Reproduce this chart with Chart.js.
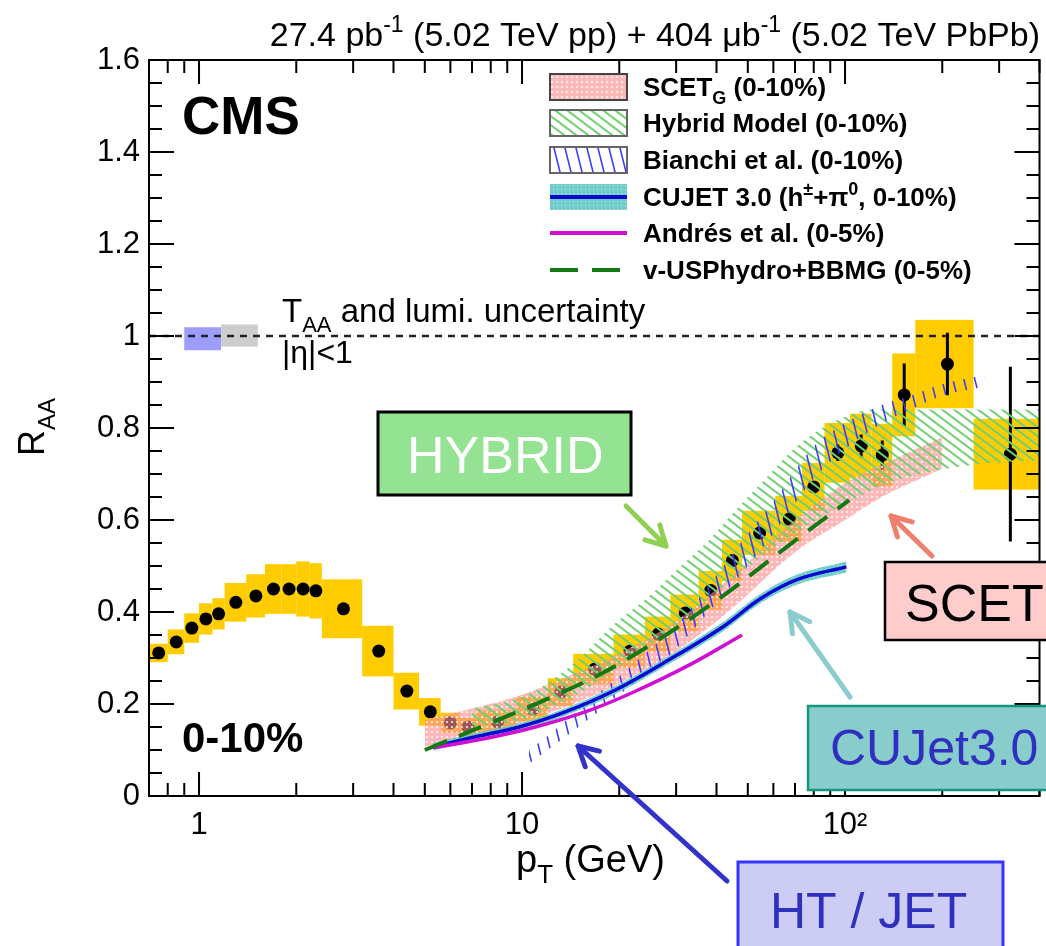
<!DOCTYPE html>
<html>
<head>
<meta charset="utf-8">
<script src="https://cdn.jsdelivr.net/npm/chart.js@4.4.1/dist/chart.umd.min.js"></script>
<style>
  html, body { margin: 0; padding: 0; background: #fff; }
  canvas { display: block; }
</style>
</head>
<body>
<canvas id="c" width="1046" height="946"></canvas>
<script>
const FONT = "'Liberation Sans', Arial, Helvetica, sans-serif";

// ---- charged-particle R_AA, 0-10% centrality ----
const binLo = [0.7,0.8,0.9,1.0,1.1,1.2,1.4,1.6,1.8,2.0,2.2,2.4,3.2,4.0,4.8,5.6,6.4,7.2,9.6,12,14.4,19.2,24,28.8,35.2,41.6,48,60.8,73.6,86.4,103.6,120.8,140,165,250];
const binHi = [0.8,0.9,1.0,1.1,1.2,1.4,1.6,1.8,2.0,2.2,2.4,3.2,4.0,4.8,5.6,6.4,7.2,9.6,12,14.4,19.2,24,28.8,35.2,41.6,48,60.8,73.6,86.4,103.6,120.8,140,165,250,400];
const ptCenter = [0.75,0.85,0.95,1.05,1.15,1.3,1.5,1.7,1.9,2.1,2.3,2.8,3.6,4.4,5.2,6.0,6.8,8.4,10.8,13.2,16.8,21.6,26.4,32,38.4,44.8,54.4,67.2,80,95,112.2,130.4,152.5,207.5,325];
const raa = [0.311,0.335,0.365,0.385,0.396,0.421,0.435,0.45,0.45,0.45,0.446,0.407,0.315,0.228,0.183,0.159,0.15,0.161,0.189,0.226,0.276,0.315,0.352,0.398,0.447,0.512,0.572,0.602,0.672,0.746,0.761,0.741,0.872,0.939,0.743];
const statErr = [0.004,0.004,0.004,0.004,0.004,0.004,0.004,0.004,0.004,0.004,0.004,0.004,0.004,0.004,0.004,0.004,0.004,0.004,0.004,0.004,0.005,0.005,0.006,0.006,0.007,0.008,0.009,0.01,0.012,0.018,0.025,0.032,0.068,0.068,0.19];
const sysErr = [0.02,0.027,0.032,0.034,0.034,0.042,0.047,0.054,0.054,0.06,0.06,0.064,0.055,0.04,0.03,0.022,0.02,0.025,0.027,0.03,0.033,0.036,0.038,0.04,0.042,0.045,0.048,0.05,0.052,0.065,0.07,0.068,0.09,0.096,0.077];

// normalisation uncertainties at R_AA = 1
const taaRange = [0.9, 1.17];   const taaLo = 0.969;  const taaHi = 1.019;
const lumiRange = [1.17, 1.52]; const lumiLo = 0.977; const lumiHi = 1.025;

// ---- model predictions ----
const scetPt = [5, 7, 10, 15, 20, 30, 45, 70, 100, 130, 200];
const scetLo = [0.107, 0.13, 0.16, 0.205, 0.245, 0.315, 0.41, 0.53, 0.60, 0.65, 0.712];
const scetHi = [0.165, 0.19, 0.22, 0.27, 0.31, 0.38, 0.48, 0.60, 0.68, 0.72, 0.78];

const hybPt = [7, 10, 13, 16, 19, 24, 30, 38, 45, 55, 75, 110, 150, 250, 400];
const hybLo = [0.15, 0.165, 0.2, 0.235, 0.27, 0.32, 0.37, 0.43, 0.47, 0.52, 0.585, 0.65, 0.69, 0.72, 0.73];
const hybHi = [0.19, 0.215, 0.263, 0.317, 0.37, 0.426, 0.49, 0.557, 0.615, 0.68, 0.774, 0.835, 0.84, 0.84, 0.84];

const biaPt = [10.5, 12, 14, 17, 20, 25, 30, 40, 50, 60, 80, 100, 130, 160, 200, 270];
const biaLo = [0.07, 0.10, 0.135, 0.18, 0.22, 0.27, 0.32, 0.42, 0.50, 0.57, 0.69, 0.755, 0.81, 0.84, 0.87, 0.89];
const biaHi = [0.10, 0.13, 0.17, 0.22, 0.26, 0.32, 0.37, 0.48, 0.57, 0.64, 0.76, 0.81, 0.85, 0.87, 0.895, 0.915];

const cujPt = [5.3, 6.9, 9.8, 13.3, 19.4, 28.5, 41.7, 55, 72, 101];
const cujY  = [0.107, 0.126, 0.15, 0.18, 0.23, 0.296, 0.367, 0.43, 0.472, 0.498];
const cujLo = [0.099, 0.118, 0.142, 0.172, 0.221, 0.287, 0.357, 0.42, 0.461, 0.486];
const cujHi = [0.115, 0.134, 0.158, 0.188, 0.239, 0.305, 0.377, 0.44, 0.483, 0.51];

const andPt = [5.3, 7.7, 11, 16, 22, 33, 48];
const andY  = [0.105, 0.125, 0.15, 0.185, 0.225, 0.285, 0.35];

const usPt = [5, 7.7, 11.8, 17.7, 25.8, 41.5, 67, 103];
const usY  = [0.1, 0.154, 0.209, 0.267, 0.335, 0.433, 0.545, 0.643];

// axis labels
const xLabelTicks = [1, 10, 100];
const xTickText = ['1', '10', '10\u00B2'];

const legendRows = [
  [{t:'SCET'},{t:'G',sub:true},{t:' (0-10%)'}],
  [{t:'Hybrid Model (0-10%)'}],
  [{t:'Bianchi et al. (0-10%)'}],
  [{t:'CUJET 3.0 (h'},{t:'\u00B1',sup:true},{t:'+\u03C0'},{t:'0',sup:true},{t:', 0-10%)'}],
  [{t:'Andr\u00E9s et al. (0-5%)'}],
  [{t:'v-USPhydro+BBMG (0-5%)'}]
];

// ---- fill patterns ----
function tile(w, h, paint) {
  const c = document.createElement('canvas');
  c.width = w; c.height = h;
  paint(c.getContext('2d'), w, h);
  return document.createElement('canvas').getContext('2d').createPattern(c, 'repeat');
}
function hatch(w, h, color, lw, bg) {
  return tile(w, h, (g) => {
    if (bg) { g.fillStyle = bg; g.fillRect(0, 0, w, h); }
    g.strokeStyle = color; g.lineWidth = lw;
    for (const o of [-w, 0, w]) {
      g.beginPath(); g.moveTo(o - w, -h); g.lineTo(o + 2 * w, 2 * h); g.stroke();
    }
  });
}
const scetPattern = tile(5, 5, (g) => {
  g.fillStyle = 'rgba(255,140,140,0.62)'; g.fillRect(0, 0, 5, 5);
  g.fillStyle = 'rgba(255,255,255,0.7)'; g.fillRect(1, 1, 2, 2);
});
const cujPattern = tile(4, 4, (g) => {
  g.fillStyle = 'rgba(90,195,195,0.85)'; g.fillRect(0, 0, 4, 4);
  g.fillStyle = 'rgba(255,255,255,0.6)'; g.fillRect(1, 1, 1, 1);
});
const hybPattern = hatch(12, 9, '#6fd06f', 2);
const biaPattern = hatch(11, 44, '#3a3aff', 1.6);

const pts = (xs, ys) => xs.map((x, i) => ({ x, y: ys[i] }));
const band = (o) => Object.assign({ type: 'line', pointRadius: 0, borderWidth: 0, tension: 0.35 }, o);

const datasets = [
  { type: 'line', data: pts(ptCenter, raa), showLine: false, pointRadius: 6.5,
    pointBackgroundColor: '#000', pointBorderWidth: 0, order: 20 },
  band({ data: pts(scetPt, scetLo), fill: false, order: 15 }),
  band({ data: pts(scetPt, scetHi), fill: '-1', backgroundColor: scetPattern, order: 15 }),
  band({ data: pts(hybPt, hybLo), fill: false, order: 14 }),
  band({ data: pts(hybPt, hybHi), fill: '-1', backgroundColor: hybPattern, order: 14 }),
  band({ data: pts(biaPt, biaLo), fill: false, order: 13 }),
  band({ data: pts(biaPt, biaHi), fill: '-1', backgroundColor: biaPattern, order: 13 }),
  band({ data: pts(cujPt, cujLo), fill: false, order: 12 }),
  band({ data: pts(cujPt, cujHi), fill: '-1', backgroundColor: cujPattern, order: 12 }),
  { type: 'line', data: pts(cujPt, cujY), borderColor: '#0a0ad0', borderWidth: 3.5, pointRadius: 0, tension: 0.35, fill: false, order: 11 },
  { type: 'line', data: pts(andPt, andY), borderColor: '#d010d0', borderWidth: 3.5, pointRadius: 0, tension: 0.35, fill: false, order: 10 },
  { type: 'line', data: pts(usPt, usY), borderColor: '#137a13', borderWidth: 4, borderDash: [24, 13], pointRadius: 0, tension: 0.35, fill: false, order: 9 }
];

// ---- drawing helpers ----
function rich(ctx, x, y, parts, size, bold, align, color) {
  let w = 0;
  const f = (p) => (bold ? 'bold ' : '') + Math.round((p.sub || p.sup) ? size * 0.68 : size) + 'px ' + FONT;
  parts.forEach(p => { ctx.font = f(p); p._w = ctx.measureText(p.t).width; w += p._w; });
  let cx = align === 'right' ? x - w : align === 'center' ? x - w / 2 : x;
  ctx.fillStyle = color || '#000';
  ctx.textBaseline = 'alphabetic'; ctx.textAlign = 'left';
  parts.forEach(p => {
    ctx.font = f(p);
    const dy = p.sub ? size * 0.3 : p.sup ? -size * 0.42 : 0;
    ctx.fillText(p.t, cx, y + dy);
    cx += p._w;
  });
  return w;
}
function arrow(ctx, x0, y0, x1, y1, color, lw) {
  const a = Math.atan2(y1 - y0, x1 - x0), L = 22;
  ctx.save();
  ctx.strokeStyle = color; ctx.lineWidth = lw; ctx.lineCap = 'round'; ctx.lineJoin = 'round';
  ctx.beginPath(); ctx.moveTo(x0, y0); ctx.lineTo(x1, y1); ctx.stroke();
  ctx.beginPath();
  ctx.moveTo(x1 - L * Math.cos(a - 0.5), y1 - L * Math.sin(a - 0.5));
  ctx.lineTo(x1, y1);
  ctx.lineTo(x1 - L * Math.cos(a + 0.5), y1 - L * Math.sin(a + 0.5));
  ctx.stroke();
  ctx.restore();
}
function labelBox(ctx, x, y, w, h, fill, stroke, lw, text, color, size, tx, ty) {
  ctx.save();
  ctx.fillStyle = fill; ctx.fillRect(x, y, w, h);
  ctx.strokeStyle = stroke; ctx.lineWidth = lw; ctx.strokeRect(x, y, w, h);
  ctx.font = size + 'px ' + FONT; ctx.fillStyle = color; ctx.textBaseline = 'alphabetic';
  ctx.textAlign = 'left'; ctx.fillText(text, tx, ty);
  ctx.restore();
}

const decor = {
  id: 'decor',
  beforeDatasetsDraw(chart) {
    const { ctx, chartArea: a, scales: { x, y } } = chart;
    ctx.save();
    ctx.beginPath(); ctx.rect(a.left, a.top, a.right - a.left, a.bottom - a.top); ctx.clip();
    // systematic boxes
    ctx.fillStyle = '#ffcc00';
    binLo.forEach((lo, i) => {
      const x0 = x.getPixelForValue(lo), x1 = x.getPixelForValue(binHi[i]);
      const y0 = y.getPixelForValue(raa[i] + sysErr[i]), y1 = y.getPixelForValue(raa[i] - sysErr[i]);
      ctx.fillRect(x0, y0, x1 - x0, y1 - y0);
    });
    // normalisation boxes
    const nb = (r, lo, hi, col) => {
      const x0 = x.getPixelForValue(r[0]), x1 = x.getPixelForValue(r[1]);
      const y0 = y.getPixelForValue(hi), y1 = y.getPixelForValue(lo);
      ctx.fillStyle = col; ctx.fillRect(x0, y0, x1 - x0, y1 - y0);
    };
    nb(taaRange, taaLo, taaHi, '#9d9dff');
    nb(lumiRange, lumiLo, lumiHi, '#cdcdcd');
    // unity line
    ctx.strokeStyle = '#222'; ctx.lineWidth = 2.5; ctx.setLineDash([7, 6]);
    ctx.beginPath(); ctx.moveTo(a.left, y.getPixelForValue(1)); ctx.lineTo(a.right, y.getPixelForValue(1)); ctx.stroke();
    ctx.setLineDash([]);
    // statistical error bars
    ctx.strokeStyle = '#000'; ctx.lineWidth = 3;
    ptCenter.forEach((p, i) => {
      const px = x.getPixelForValue(p);
      ctx.beginPath();
      ctx.moveTo(px, y.getPixelForValue(raa[i] + statErr[i]));
      ctx.lineTo(px, y.getPixelForValue(raa[i] - statErr[i]));
      ctx.stroke();
    });
    ctx.restore();
  },
  afterDraw(chart) {
    const { ctx, chartArea: a, scales: { x, y } } = chart;
    ctx.save();
    // frame
    ctx.strokeStyle = '#000'; ctx.lineWidth = 2;
    ctx.strokeRect(a.left, a.top, a.right - a.left, a.bottom - a.top);
    // y ticks (inward, both sides)
    for (let k = 0; k <= 32; k++) {
      const py = Math.round(y.getPixelForValue(k * 0.05));
      const L = (k % 4 === 0) ? 25 : 13;
      ctx.beginPath();
      ctx.moveTo(a.left, py); ctx.lineTo(a.left + L, py);
      ctx.moveTo(a.right, py); ctx.lineTo(a.right - L, py);
      ctx.stroke();
    }
    // x ticks (inward, both sides)
    for (let e = -1; e <= 2; e++) {
      for (let m = 1; m <= 9; m++) {
        const v = m * Math.pow(10, e);
        if (v < 0.7 - 1e-9 || v > 400 + 1e-9) continue;
        const px = x.getPixelForValue(v);
        const L = (m === 1) ? 24 : 13;
        ctx.beginPath();
        ctx.moveTo(px, a.bottom); ctx.lineTo(px, a.bottom - L);
        ctx.moveTo(px, a.top); ctx.lineTo(px, a.top + L);
        ctx.stroke();
      }
    }
    // header
    rich(ctx, 1040, 46, [{t:'27.4 pb'},{t:'-1',sup:true},{t:' (5.02 TeV pp) + 404 \u03BCb'},{t:'-1',sup:true},{t:' (5.02 TeV PbPb)'}], 34, false, 'right');
    // axis titles
    rich(ctx, 516, 872, [{t:'p'},{t:'T',sub:true},{t:' (GeV)'}], 38, false, 'left');
    ctx.save(); ctx.translate(44, 427); ctx.rotate(-Math.PI / 2);
    rich(ctx, 0, 0, [{t:'R'},{t:'AA',sub:true}], 36, false, 'center');
    ctx.restore();
    // in-plot texts
    ctx.font = 'bold 53px ' + FONT; ctx.fillStyle = '#000'; ctx.textAlign = 'left'; ctx.textBaseline = 'alphabetic';
    ctx.fillText('CMS', 182, 134);
    ctx.font = 'bold 42px ' + FONT;
    ctx.fillText('0-10%', 182, 752);
    rich(ctx, 282, 322, [{t:'T'},{t:'AA',sub:true},{t:' and lumi. uncertainty'}], 33, false, 'left');
    ctx.font = '32px ' + FONT; ctx.fillStyle = '#000';
    ctx.fillText('|\u03B7|<1', 282, 363);
    // legend
    const rowY = [87, 123, 160, 197, 233, 270];
    const bx0 = 550, bx1 = 627, bh = 26;
    rowY.forEach((cy, i) => {
      const top = cy - bh / 2;
      if (i <= 2) {
        ctx.fillStyle = '#fff'; ctx.fillRect(bx0, top, bx1 - bx0, bh);
        ctx.fillStyle = [scetPattern, hybPattern, biaPattern][i]; ctx.fillRect(bx0, top, bx1 - bx0, bh);
        ctx.strokeStyle = i === 0 ? '#444' : '#666'; ctx.lineWidth = 2; ctx.strokeRect(bx0, top, bx1 - bx0, bh);
      } else if (i === 3) {
        ctx.fillStyle = cujPattern; ctx.fillRect(bx0, top, bx1 - bx0, bh);
        ctx.strokeStyle = '#0a0ad0'; ctx.lineWidth = 4;
        ctx.beginPath(); ctx.moveTo(bx0, cy); ctx.lineTo(bx1, cy); ctx.stroke();
      } else if (i === 4) {
        ctx.strokeStyle = '#d010d0'; ctx.lineWidth = 4;
        ctx.beginPath(); ctx.moveTo(bx0, cy); ctx.lineTo(bx1, cy); ctx.stroke();
      } else {
        ctx.strokeStyle = '#137a13'; ctx.lineWidth = 4; ctx.setLineDash([28, 14]);
        ctx.beginPath(); ctx.moveTo(bx0, cy); ctx.lineTo(bx1, cy); ctx.stroke();
        ctx.setLineDash([]);
      }
      rich(ctx, 643, cy + 9, legendRows[i].map(p => Object.assign({}, p)), 26, true, 'left');
    });
    // call-out boxes and arrows
    labelBox(ctx, 378, 412, 253, 83, '#93e393', '#000', 3, 'HYBRID', '#fff', 52, 407, 473);
    arrow(ctx, 626, 506, 666, 546, '#8fd050', 5);
    labelBox(ctx, 885, 562, 180, 78, '#ffcccc', '#000', 2.5, 'SCET', '#000', 52, 905, 621);
    arrow(ctx, 932, 556, 891, 516, '#ee8070', 5);
    labelBox(ctx, 808, 706, 260, 84, '#88cccc', '#16967a', 2.5, 'CUJet3.0', '#3030c0', 50, 830, 765);
    arrow(ctx, 850, 697, 790, 612, '#8ccccc', 5);
    labelBox(ctx, 738, 862, 265, 100, '#ccccf5', '#3535ff', 3, 'HT / JET', '#3030c0', 50, 770, 928);
    arrow(ctx, 727, 881, 578, 746, '#3333cc', 5);
    ctx.restore();
  }
};

new Chart(document.getElementById('c'), {
  type: 'line',
  data: { datasets },
  options: {
    responsive: false,
    animation: false,
    devicePixelRatio: 1,
    layout: { padding: { top: 60, right: 6, left: 0, bottom: 0 } },
    plugins: { legend: { display: false }, tooltip: { enabled: false }, title: { display: false } },
    scales: {
      x: {
        type: 'logarithmic', min: 0.7, max: 400,
        grid: { display: false, drawTicks: false }, border: { display: false },
        afterBuildTicks: (s) => { s.ticks = xLabelTicks.map(v => ({ value: v })); },
        ticks: { autoSkip: false, maxRotation: 0, padding: 11, color: '#000',
          font: { family: FONT, size: 31 }, callback: (v, i) => xTickText[i] },
        afterFit: (s) => { s.height = 150; }
      },
      y: {
        type: 'linear', min: 0, max: 1.6,
        grid: { display: false, drawTicks: false }, border: { display: false },
        ticks: { stepSize: 0.2, padding: 9, color: '#000', font: { family: FONT, size: 31 },
          callback: (v) => String(+v.toFixed(1)) },
        afterFit: (s) => { s.width = 149; }
      }
    }
  },
  plugins: [decor]
});
</script>
</body>
</html>
